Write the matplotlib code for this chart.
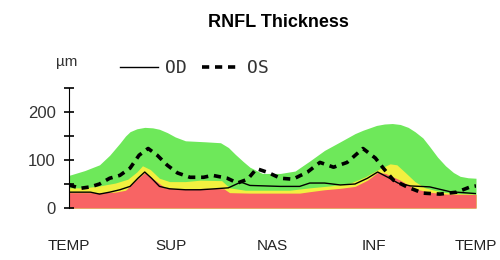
import numpy as np
import matplotlib
matplotlib.use('Agg')
import matplotlib.pyplot as plt

# normative bands (upper edge of each band, um) vs. angle
green_ang = [0, 14, 27, 36, 45, 50, 54, 60, 67, 74, 80, 87, 94, 103, 120, 134, 141, 147, 154,
             160, 171, 187, 200, 213, 226, 240, 253, 260, 266, 272, 279, 286, 293, 300, 306,
             313, 319, 326, 333, 340, 346, 353, 360]
green_val = [68, 78, 90, 110, 135, 150, 159, 165, 168, 167, 164, 157, 148, 140, 138, 136, 126,
             112, 97, 85, 72, 72, 77, 98, 120, 138, 155, 162, 167, 172, 175, 176, 174, 168, 159,
             146, 128, 106, 88, 74, 66, 63, 62]

yellow_ang = [0, 14, 27, 41, 52, 60, 65, 72, 80, 89, 103, 116, 135, 142, 156, 173, 195, 213,
              231, 249, 262, 275, 284, 290, 297, 306, 315, 330, 344, 360]
yellow_val = [42, 42, 46, 52, 60, 75, 88, 80, 62, 55, 55, 58, 57, 42, 37, 37, 37, 42,
              46, 52, 65, 82, 92, 90, 75, 55, 42, 33, 30, 29]

red_ang = [0, 27, 41, 50, 58, 67, 76, 85, 94, 107, 120, 137, 142, 160, 187, 204, 213, 226,
           240, 253, 264, 273, 280, 293, 306, 319, 333, 360]
red_val = [32, 32, 33, 37, 55, 74, 58, 42, 40, 40, 41, 40, 32, 31, 31, 31, 34, 38,
           41, 45, 58, 74, 72, 58, 40, 33, 29, 28]

# measured thickness
od_ang = [0, 19, 27, 36, 45, 54, 61, 67, 73, 80, 89, 103, 116, 129, 141, 152, 160, 187, 204,
          213, 226, 240, 253, 264, 273, 282, 291, 302, 319, 337, 360]
od_val = [33, 33, 29, 33, 38, 45, 62, 75, 62, 45, 40, 38, 38, 40, 42, 54, 47, 45, 45,
          52, 52, 48, 50, 62, 75, 64, 52, 46, 44, 34, 30]

os_ang = [0, 10, 19, 27, 36, 45, 54, 62, 70, 78, 87, 96, 107, 119, 127, 140, 149, 158, 166,
          176, 187, 198, 211, 222, 234, 246, 260, 271, 278, 287, 299, 313, 328, 343, 355, 360]
os_val = [48, 41, 44, 50, 62, 68, 83, 110, 124, 110, 89, 73, 64, 64, 68, 62, 52, 60, 82,
          74, 62, 60, 75, 95, 85, 95, 124, 104, 83, 58, 44, 31, 29, 33, 44, 46]

xtick_pos = [0, 90, 180, 270, 360]
xtick_lab = ['TEMP', 'SUP', 'NAS', 'INF', 'TEMP']

fig = plt.figure(figsize=(5, 2.6), dpi=100)
ax = fig.add_axes([0.138, 0.2, 0.814, 0.4615])

ax.fill_between(green_ang, 0, green_val, color='#6ee85a', lw=0)
ax.fill_between(yellow_ang, 0, yellow_val, color='#f2f040', lw=0)
ax.fill_between(red_ang, 0, red_val, color='#f86464', lw=0)

l_od, = ax.plot(od_ang, od_val, color='black', lw=1.0, label='OD')
l_os, = ax.plot(os_ang, os_val, color='black', lw=2.6, linestyle=(0, (2, 1.6)), label='OS')

ax.set_xlim(0, 360)
ax.set_ylim(0, 250)
for s in ['top', 'right', 'bottom']:
    ax.spines[s].set_visible(False)
ax.spines['left'].set_position(('data', 0))

ax.set_yticks([0, 100, 200])
ax.set_yticks([50, 150, 250], minor=True)
ax.tick_params(axis='y', which='both', direction='inout', length=7, width=1.2,
               labelsize=12, colors='black', labelcolor='#333333', pad=6)
ax.set_xticks(xtick_pos)
ax.set_xticklabels(xtick_lab, fontsize=11, color='#222222')
ax.tick_params(axis='x', length=0, pad=22)
for t in ax.get_yticklabels() + ax.get_xticklabels():
    t.set_family('Liberation Sans')

fig.text(0.556, 0.912, 'RNFL Thickness', ha='center', va='center',
         fontsize=13, fontweight='bold', family='Liberation Sans')
fig.text(0.133, 0.762, 'µm', ha='center', va='center', fontsize=11,
         family='Liberation Sans', color='#333333')

leg = fig.legend(handles=[l_od, l_os], loc='center left', bbox_to_anchor=(0.24, 0.738),
                 ncol=2, frameon=False, handlelength=2.1, handletextpad=0.4,
                 columnspacing=0.85, borderaxespad=0, borderpad=0,
                 prop={'family': 'DejaVu Sans Mono', 'size': 13})
for t in leg.get_texts():
    t.set_color('#333333')

fig.savefig('out.png', dpi=100)
